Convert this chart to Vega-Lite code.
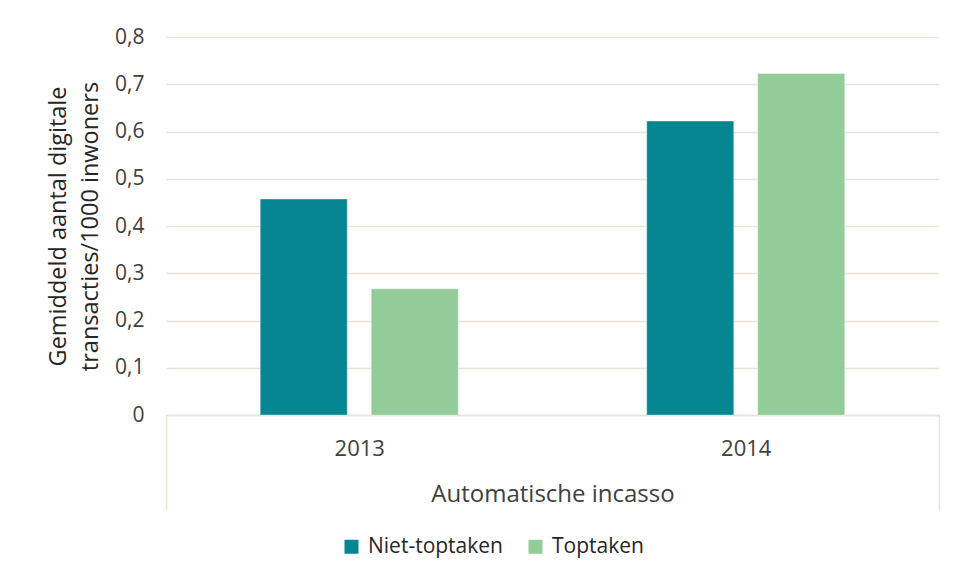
{
  "$schema": "https://vega.github.io/schema/vega-lite/v6.json",
  "width": 773,
  "height": 378,
  "padding": {"left": 46, "top": 26, "right": 16, "bottom": 5},
  "autosize": {"type": "pad"},
  "background": "white",
  "data": {
    "values": [
      {"year": "2013", "group": "Niet-toptaken", "value": 0.457},
      {"year": "2013", "group": "Toptaken", "value": 0.267},
      {"year": "2014", "group": "Niet-toptaken", "value": 0.622},
      {"year": "2014", "group": "Toptaken", "value": 0.723}
    ]
  },
  "mark": {"type": "bar", "stroke": "#ffffff", "strokeOpacity": 0.35, "strokeWidth": 1},
  "encoding": {
    "x": {
      "field": "year",
      "type": "nominal",
      "scale": {"paddingInner": 0, "paddingOuter": 0},
      "axis": {
        "title": "Automatische incasso",
        "labelAngle": 0,
        "domainColor": "#E8E4D6",
        "domainWidth": 1.5,
        "tickBand": "extent",
        "tickColor": {"condition": {"test": "datum.value === '2013'", "value": "transparent"}, "value": "#E8E4D6"},
        "tickSize": 95,
        "tickWidth": 1.5,
        "labelPadding": -72,
        "labelFontSize": 22,
        "labelColor": "#404040",
        "titleFontSize": 24,
        "titleFontWeight": "normal",
        "titleColor": "#404040",
        "titleY": 79,
        "titleBaseline": "middle",
        "grid": false
      }
    },
    "xOffset": {
      "field": "group",
      "type": "nominal",
      "sort": ["Niet-toptaken", "Toptaken"],
      "scale": {"paddingInner": 0.216, "paddingOuter": 0.849}
    },
    "y": {
      "field": "value",
      "type": "quantitative",
      "scale": {"domain": [0, 0.8], "nice": false},
      "axis": {
        "title": ["Gemiddeld aantal digitale", "transacties/1000 inwoners"],
        "values": [0, 0.1, 0.2, 0.3, 0.4, 0.5, 0.6, 0.7, 0.8],
        "labelExpr": "replace(format(datum.value, '.1~f'), '.', ',')",
        "domain": false,
        "ticks": false,
        "gridColor": "#E8E4D6",
        "gridWidth": 1.5,
        "labelPadding": 22,
        "labelFontSize": 21,
        "labelColor": "#404040",
        "titlePadding": 12,
        "titleFontSize": 23.5,
        "titleFontWeight": "normal",
        "titleColor": "#262626",
        "titleLineHeight": 32
      }
    },
    "color": {
      "field": "group",
      "type": "nominal",
      "scale": {"domain": ["Niet-toptaken", "Toptaken"], "range": ["#058690", "#94CC99"]},
      "legend": {
        "orient": "none",
        "legendX": 175,
        "legendY": 499,
        "direction": "horizontal",
        "title": null,
        "symbolType": "square",
        "symbolSize": 196,
        "symbolStrokeWidth": 0,
        "labelFontSize": 21,
        "labelColor": "#262626",
        "labelOffset": 6,
        "columnPadding": 22,
        "padding": 0
      }
    }
  },
  "config": {"font": "Open Sans", "view": {"stroke": null}}
}
